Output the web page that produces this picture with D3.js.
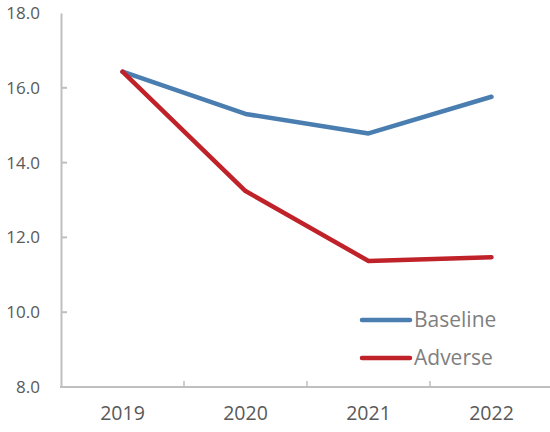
<!DOCTYPE html>
<html><head><meta charset="utf-8">
<script src="https://cdn.jsdelivr.net/npm/d3@7"></script>
<style>body{margin:0;background:#fff}svg{display:block}text{font-family:"Open Sans","Noto Sans",sans-serif}</style>
</head><body>
<svg id="c" width="550" height="432"></svg>
<script>
const years = ["2019","2020","2021","2022"];
const baseline = [16.43, 15.30, 14.78, 15.76];
const adverse = [16.43, 13.24, 11.37, 11.47];
const yTicks = [8, 10, 12, 14, 16, 18];
const seriesNames = ["Baseline","Adverse"];
const colors = ["#4a7eb0","#c0222a"];

const svg = d3.select("#c");
const x = d3.scaleBand().domain(years).range([61, 553]);
const y = d3.scaleLinear().domain([8, 18]).range([387, 13]);
const axisCol = "#bfbfbf";

// y axis
const ya = svg.append("g").attr("transform","translate(61,0)")
  .call(d3.axisLeft(y).tickValues(yTicks).tickFormat(d3.format(".1f")).tickSize(0).tickPadding(21));
ya.select(".domain").attr("stroke",axisCol).attr("stroke-width",2);
ya.selectAll("text").attr("fill","#595959").style("font-size","17px");
svg.append("g").selectAll("line").data(yTicks.slice(1,-1)).join("line")
  .attr("x1",61).attr("x2",67).attr("y1",d=>y(d)).attr("y2",d=>y(d))
  .attr("stroke",axisCol).attr("stroke-width",2);

// x axis
svg.append("line").attr("x1",60).attr("x2",553).attr("y1",387).attr("y2",387)
  .attr("stroke",axisCol).attr("stroke-width",2);
svg.append("g").selectAll("line").data(years.slice(1)).join("line")
  .attr("x1",d=>x(d)).attr("x2",d=>x(d)).attr("y1",387).attr("y2",381)
  .attr("stroke",axisCol).attr("stroke-width",1.5);
svg.append("g").selectAll("text").data(years).join("text")
  .attr("x",d=>x(d)+x.bandwidth()/2).attr("y",420).attr("text-anchor","middle")
  .attr("fill","#595959").style("font-size","19.5px").text(d=>d);

const line = d3.line().x((d,i)=>x(years[i])+x.bandwidth()/2).y(d=>y(d));
[baseline, adverse].forEach((s,i)=>{
  svg.append("path").attr("d",line(s)).attr("fill","none").attr("stroke",colors[i])
    .attr("stroke-width",4.5).attr("stroke-linecap","round").attr("stroke-linejoin","round");
});

// legend
const lg = svg.append("g");
seriesNames.forEach((n,i)=>{
  const yy = 320 + i*38;
  lg.append("line").attr("x1",362).attr("x2",410).attr("y1",yy).attr("y2",yy)
    .attr("stroke",colors[i]).attr("stroke-width",4.5).attr("stroke-linecap","round");
  lg.append("text").attr("x",414).attr("y",yy).attr("dy","0.35em")
    .attr("fill","#7f7f7f").style("font-size","21px").text(n);
});
</script>
</body></html>
